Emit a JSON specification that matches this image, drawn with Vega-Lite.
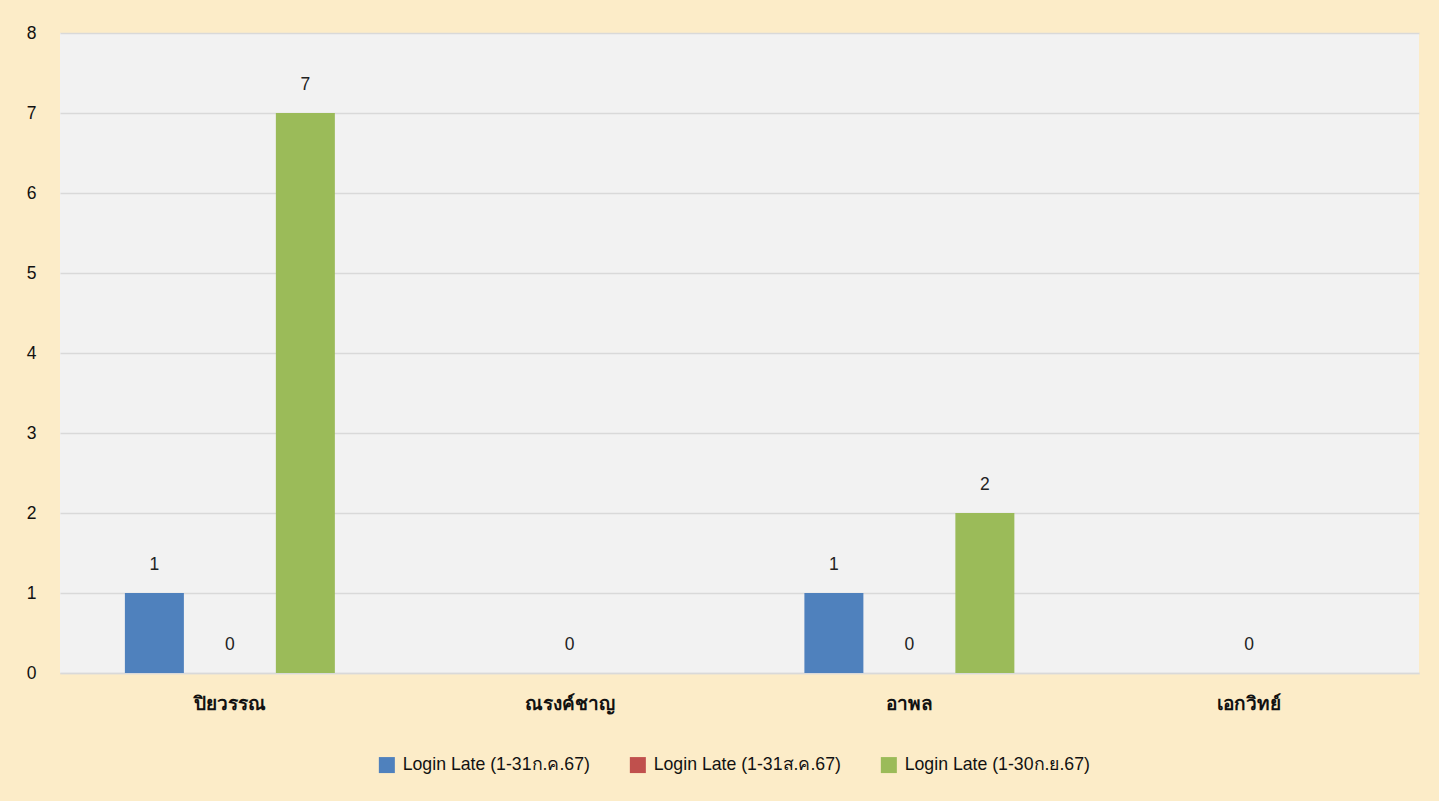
{
  "$schema": "https://vega.github.io/schema/vega-lite/v6.json",
  "autosize": {"type": "none"},
  "width": 1359,
  "height": 640,
  "padding": {"left": 60, "top": 33, "right": 20, "bottom": 128},
  "background": "#fcecc8",
  "config": {
    "view": {"fill": "#f2f2f2", "stroke": null},
    "font": "Liberation Sans"
  },
  "data": {
    "values": [
      {"name": "ปิยวรรณ", "series": "Login Late (1-31ก.ค.67)", "value": 1},
      {"name": "ปิยวรรณ", "series": "Login Late (1-31ส.ค.67)", "value": 0},
      {"name": "ปิยวรรณ", "series": "Login Late (1-30ก.ย.67)", "value": 7},
      {"name": "ณรงค์ชาญ", "series": "Login Late (1-31ส.ค.67)", "value": 0},
      {"name": "อาพล", "series": "Login Late (1-31ก.ค.67)", "value": 1},
      {"name": "อาพล", "series": "Login Late (1-31ส.ค.67)", "value": 0},
      {"name": "อาพล", "series": "Login Late (1-30ก.ย.67)", "value": 2},
      {"name": "เอกวิทย์", "series": "Login Late (1-31ส.ค.67)", "value": 0}
    ]
  },
  "encoding": {
    "x": {
      "field": "name", "type": "nominal", "sort": null,
      "scale": {"paddingInner": 0.382, "paddingOuter": 0.191},
      "axis": {
        "title": null, "labelAngle": 0, "labelFontSize": 19, "labelFontWeight": "bold",
        "labelColor": "#111", "labelPadding": 21, "ticks": false,
        "domainColor": "#d9d9d9", "domainWidth": 1.5
      }
    },
    "xOffset": {
      "field": "series", "type": "nominal",
      "scale": {"domain": ["Login Late (1-31ก.ค.67)", "Login Late (1-31ส.ค.67)", "Login Late (1-30ก.ย.67)"], "paddingInner": 0.2185, "paddingOuter": 0}
    },
    "y": {
      "field": "value", "type": "quantitative",
      "scale": {"domain": [0, 8], "nice": false},
      "axis": {
        "title": null, "values": [0, 1, 2, 3, 4, 5, 6, 7, 8], "labelOverlap": false, "labelFontSize": 17.5, "labelColor": "#111",
        "labelPadding": 24, "ticks": false, "domain": false,
        "gridColor": "#d9d9d9", "gridWidth": 1.5
      }
    }
  },
  "layer": [
    {
      "mark": {"type": "bar"},
      "encoding": {
        "color": {
          "field": "series", "type": "nominal",
          "scale": {"domain": ["Login Late (1-31ก.ค.67)", "Login Late (1-31ส.ค.67)", "Login Late (1-30ก.ย.67)"], "range": ["#4f81bd", "#c0504d", "#9bbb59"]},
          "legend": {
            "title": null, "orient": "none", "direction": "horizontal",
            "legendX": 318, "legendY": 723,
            "symbolType": "square", "symbolSize": 256, "symbolStrokeWidth": 0,
            "labelFontSize": 17.7, "labelColor": "#111", "labelOffset": 7,
            "columnPadding": 39, "gridAlign": "all", "labelLimit": 300
          }
        }
      }
    },
    {
      "mark": {"type": "text", "dy": -28, "baseline": "middle", "fontSize": 17.5, "color": "#222"},
      "encoding": {"text": {"field": "value", "type": "quantitative"}}
    }
  ]
}
